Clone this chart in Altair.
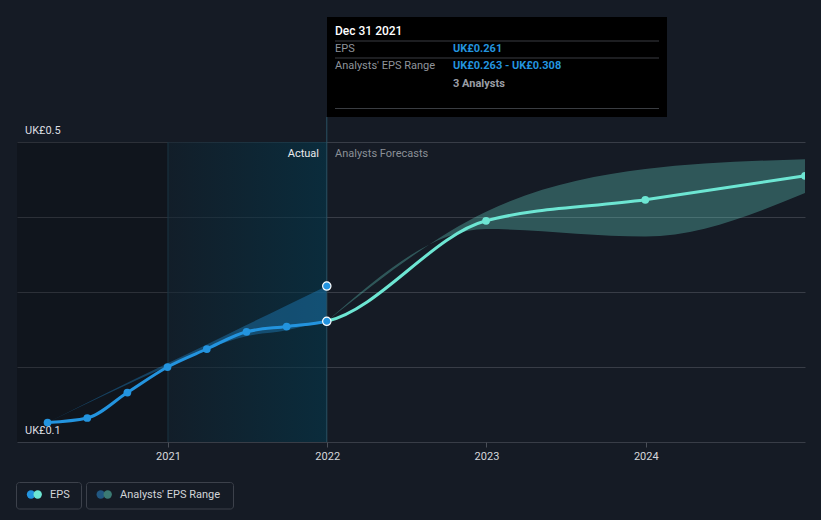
import altair as alt
import pandas as pd
from datetime import date

BG = "#151b25"
BLUE = "#2394df"
TEAL = "#6de6d3"
FONT = "Roboto"

# ---------------- data ----------------
actual_dates = ["2020-03-31", "2020-06-30", "2020-09-30", "2020-12-31",
                "2021-03-31", "2021-06-30", "2021-09-30", "2021-12-31"]
actual_eps = [0.126, 0.132, 0.166, 0.200, 0.224, 0.247, 0.254, 0.261]

past_range_dates = ["2020-03-31", "2020-12-31", "2021-03-31", "2021-06-30",
                    "2021-09-30", "2021-12-31"]
past_low = [0.126, 0.201, 0.224, 0.241, 0.249, 0.263]
past_high = [0.126, 0.205, 0.230, 0.256, 0.282, 0.308]

forecast_dates = ["2021-12-31", "2022-12-31", "2023-12-31", "2024-12-31"]
forecast_eps = [0.261, 0.395, 0.423, 0.455]
forecast_low = [0.261, 0.384, 0.374, 0.432]
forecast_high = [0.261, 0.407, 0.464, 0.477]

x_start = "2020-01-21"
x_end = "2024-12-31"
shade_split = "2021-01-01"
year_ticks = [2021, 2022, 2023, 2024]
y_ticks = [0.1, 0.2, 0.3, 0.4, 0.5]
y_labeled = [0.1, 0.5]
y_top = 0.6667

tooltip_date = "Dec 31 2021"
analyst_count = 3

# ---------------- scales / axes ----------------
def dt(s):
    y, m, d = (int(v) for v in s.split("-"))
    return alt.DateTime(year=y, month=m, date=d, utc=True)

xscale = alt.Scale(type="utc", domain=[dt(x_start), dt(x_end)])
yscale = alt.Scale(domain=[y_ticks[0], y_top], nice=False, zero=False)

xaxis = alt.Axis(
    values=[alt.DateTime(year=y, month=1, date=1, utc=True) for y in year_ticks],
    labelExpr="utcFormat(datum.value, '%Y')", grid=False, domain=False,
    ticks=True, tickColor="#4a4f58", tickSize=5, labelColor="#d5d7db",
    labelFontSize=11, labelFont=FONT, labelPadding=3, title=None,
)
yaxis = alt.Axis(
    values=y_ticks, grid=True, gridColor="#383d47", gridWidth=1, domain=False,
    ticks=False, labels=False, title=None,
)

def X(f):
    return alt.X(f"{f}:T", scale=xscale, axis=xaxis)

def X2(f):
    return alt.X2(f"{f}:T")

def Y(f):
    return alt.Y(f"{f}:Q", scale=yscale, axis=yaxis)

def Y2(f):
    return alt.Y2(f"{f}:Q")

# ---------------- frames ----------------
actual_df = pd.DataFrame({"date": actual_dates, "eps": actual_eps})
past_df = pd.DataFrame({"date": past_range_dates, "low": past_low, "high": past_high})
fc_df = pd.DataFrame({"date": forecast_dates, "eps": forecast_eps,
                      "low": forecast_low, "high": forecast_high})
line_df = pd.DataFrame({"date": actual_dates + forecast_dates[1:],
                        "eps": actual_eps + forecast_eps[1:]})

shade_df = pd.DataFrame({"start": [x_start], "mid": [shade_split],
                         "end": [actual_dates[-1]], "lo": [y_ticks[0]], "hi": [y_ticks[-1]]})

ylab_df = pd.DataFrame({"v": y_labeled, "t": [f"UK£{v:.1f}" for v in y_labeled]})

def d(s):
    return date.fromisoformat(s)

split_off = (d(actual_dates[-1]) - d(actual_dates[0])).days / (d(forecast_dates[-1]) - d(actual_dates[0])).days

# ---------------- layers ----------------
left_rect = alt.Chart(shade_df).mark_rect(fill="#000000", opacity=0.2).encode(
    x=X("start"), x2=X2("mid"), y=Y("lo"), y2=Y2("hi"))

grad_rect = alt.Chart(shade_df).mark_rect(
    opacity=0.6,
    fill=alt.LinearGradient(gradient="linear", x1=0, x2=1, y1=0, y2=0,
                            stops=[alt.GradientStop(color="#10202c", offset=0),
                                   alt.GradientStop(color="#03374b", offset=1)])
).encode(x=X("mid"), x2=X2("end"), y=Y("lo"), y2=Y2("hi"))

split_rule = alt.Chart(shade_df).mark_rule(color="#1b3542", strokeWidth=1).encode(
    x=X("mid"), y=Y("lo"), y2=Y2("hi"))

now_rule = alt.Chart(shade_df).mark_rule(color="#2a5263", strokeWidth=1).encode(
    x=X("end"), y=alt.value(100), y2=alt.value(425))

ylabels = alt.Chart(ylab_df).mark_text(
    align="left", baseline="alphabetic", dy=-8, font=FONT, fontSize=11,
    color="#dcdee1").encode(x=alt.value(8), y=Y("v"), text="t:N")

past_band = alt.Chart(past_df).mark_area(
    interpolate="monotone", fill=BLUE, opacity=0.35).encode(
    x=X("date"), y=Y("low"), y2=Y2("high"))

fc_band = alt.Chart(fc_df).mark_area(
    interpolate="monotone", fill=TEAL, opacity=0.3, clip=True).encode(
    x=X("date"), y=Y("low"), y2=Y2("high"))

eps_line = alt.Chart(line_df).mark_line(
    interpolate="monotone", strokeWidth=3, clip=True,
    stroke=alt.LinearGradient(gradient="linear", x1=0, x2=1, y1=0, y2=0,
                              stops=[alt.GradientStop(color=BLUE, offset=0),
                                     alt.GradientStop(color=BLUE, offset=split_off),
                                     alt.GradientStop(color=TEAL, offset=split_off),
                                     alt.GradientStop(color=TEAL, offset=1)])
).encode(x=X("date"), y=Y("eps"))

actual_pts = alt.Chart(actual_df.iloc[:-1]).mark_point(
    filled=True, size=60, color=BLUE, opacity=1).encode(x=X("date"), y=Y("eps"))

fc_pts = alt.Chart(fc_df.iloc[1:]).mark_point(
    filled=True, size=60, color=TEAL, opacity=1, clip=True).encode(x=X("date"), y=Y("eps"))

now_df = pd.DataFrame({"date": [actual_dates[-1]] * 2,
                       "v": [actual_eps[-1], past_high[-1]]})
now_pts = alt.Chart(now_df).mark_point(
    filled=True, size=70, fill=BLUE, stroke="white", strokeWidth=1.2, opacity=1).encode(
    x=X("date"), y=Y("v"))

one = pd.DataFrame({"k": [0]})

actual_lbl = alt.Chart(pd.DataFrame({"t": ["Actual"]})).mark_text(
    align="right", baseline="middle", font=FONT, fontSize=11, color="#e8eaed").encode(
    x=alt.value(302), y=alt.value(137), text="t:N")
fc_lbl = alt.Chart(pd.DataFrame({"t": ["Analysts Forecasts"]})).mark_text(
    align="left", baseline="middle", font=FONT, fontSize=11, color="#8b9097").encode(
    x=alt.value(318), y=alt.value(137), text="t:N")

# tooltip box
tip_box = alt.Chart(one).mark_rect(fill="#000000").encode(
    x=alt.value(310), x2=alt.value(650), y=alt.value(0), y2=alt.value(100))
tip_rules = [
    alt.Chart(one).mark_rule(color="#3a3d42", strokeWidth=1).encode(
        x=alt.value(318), x2=alt.value(642), y=alt.value(yy))
    for yy in (24, 41, 91.5)
]

def tip_text(t, x, y, color, weight="normal", size=11):
    return alt.Chart(pd.DataFrame({"t": [t]})).mark_text(
        align="left", baseline="middle", font=FONT, fontSize=size,
        color=color, fontWeight=weight).encode(
        x=alt.value(x), y=alt.value(y), text="t:N")

tip_texts = [
    tip_text(tooltip_date, 318, 14, "#ffffff", 500, 12),
    tip_text("EPS", 318, 32, "#8f949b"),
    tip_text(f"UK£{actual_eps[-1]:.3f}", 436, 32, BLUE, "bold"),
    tip_text("Analysts' EPS Range", 318, 49, "#8f949b"),
    tip_text(f"UK£{past_low[-1]:.3f} - UK£{past_high[-1]:.3f}", 436, 49, BLUE, "bold"),
    tip_text(f"{analyst_count} Analysts", 436, 66.5, "#9a9ea5", "bold"),
]

# legend
def legend_box(x0, x1):
    return alt.Chart(one).mark_rect(
        fill=BG, stroke="#3c414b", strokeWidth=1, cornerRadius=3).encode(
        x=alt.value(x0), x2=alt.value(x1), y=alt.value(465.5), y2=alt.value(492))

def legend_dot(x, color):
    return alt.Chart(one).mark_point(
        filled=True, size=70, color=color, opacity=1).encode(
        x=alt.value(x), y=alt.value(477.5))

def legend_text(t, x):
    return alt.Chart(pd.DataFrame({"t": [t]})).mark_text(
        align="left", baseline="middle", font=FONT, fontSize=11,
        color="#d2d5d9").encode(x=alt.value(x), y=alt.value(478), text="t:N")

legend = [
    legend_box(-0.5, 64.5), legend_dot(14, BLUE), legend_dot(20.7, TEAL),
    legend_text("EPS", 33),
    legend_box(69.5, 216.5), legend_dot(83.7, "#215781"), legend_dot(90.7, "#3b7a73"),
    legend_text("Analysts' EPS Range", 103),
]

chart = alt.layer(
    left_rect, grad_rect, split_rule, ylabels, past_band, fc_band, now_rule,
    eps_line, actual_pts, fc_pts, now_pts, actual_lbl, fc_lbl,
    tip_box, *tip_rules, *tip_texts, *legend,
).properties(
    width=788, height=425,
    padding={"left": 9, "top": 9, "right": 8, "bottom": 70},
    autosize=alt.AutoSizeParams(type="none"),
    background=BG,
).configure_view(stroke=None)

chart.save("out.html", embed_options={"renderer": "svg", "actions": False})

# dark page background around the chart (page margin)
with open("out.html", encoding="utf-8") as fh:
    html = fh.read()
html = html.replace("<head>", f"<head>\n<style>html, body {{ background: {BG}; }}</style>", 1)
with open("out.html", "w", encoding="utf-8") as fh:
    fh.write(html)
